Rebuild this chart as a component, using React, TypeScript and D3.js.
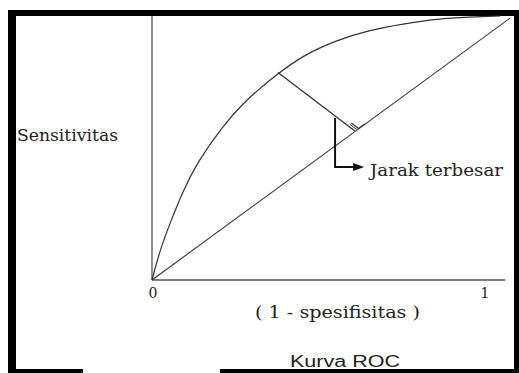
import { useEffect } from "react";
import * as d3 from "d3";

// ROC curve points (x = 1 - spesifisitas, y = sensitivitas)
const rocX = [0, 0.023, 0.052, 0.089, 0.129, 0.201, 0.267, 0.345, 0.434, 0.532, 0.626, 0.721, 0.819, 0.914, 1.0];
const rocY = [0, 0.114, 0.216, 0.337, 0.443, 0.58, 0.678, 0.765, 0.852, 0.909, 0.947, 0.97, 0.989, 0.996, 1.0];

// reference diagonal (chance line), slightly longer than the axis
const diagX = [0, 1.029];
const diagY = [0, 0.992];

// largest distance segment: from curve to the diagonal
const gapX = [0.362, 0.583];
const gapY = [0.786, 0.564];

// callout arrow: down from the segment, then right to the label
const arrowX = [0.526, 0.526, 0.598];
const arrowY = [0.614, 0.428, 0.428];

const tickValues = [0, 1];
const tickLabels = ["0", "1"];

const W = 519;
const H = 373;
const ink = "#333";

export default function App() {
  useEffect(() => {
    document.body.style.margin = "0";
  }, []);

  const x = d3.scaleLinear().domain([0, 1]).range([152, 500]);
  const y = d3.scaleLinear().domain([0, 1]).range([280, 16]);

  const straight = d3
    .line<[number, number]>()
    .x((d) => x(d[0]))
    .y((d) => y(d[1]));
  const smooth = d3
    .line<[number, number]>()
    .x((d) => x(d[0]))
    .y((d) => y(d[1]))
    .curve(d3.curveBasis);

  const roc = smooth(rocX.map((v, i) => [v, rocY[i]]));
  const diag = straight(diagX.map((v, i) => [v, diagY[i]]));
  const gap = straight(gapX.map((v, i) => [v, gapY[i]]));
  const arrow = straight(arrowX.map((v, i) => [v, arrowY[i]]));

  // right angle marker at the foot of the segment
  const fx = x(gapX[1]);
  const fy = y(gapY[1]);
  const ux0 = x(gapX[0]) - fx;
  const uy0 = y(gapY[0]) - fy;
  const ul = Math.hypot(ux0, uy0);
  const u = [ux0 / ul, uy0 / ul];
  const vx0 = x(diagX[1]) - x(diagX[0]);
  const vy0 = y(diagY[1]) - y(diagY[0]);
  const vl = Math.hypot(vx0, vy0);
  const v = [vx0 / vl, vy0 / vl];
  const pt = (a: number, b: number) => `${fx + a * u[0] + b * v[0]},${fy + a * u[1] + b * v[1]}`;

  // arrow head
  const ax = x(arrowX[2]);
  const ay = y(arrowY[2]);

  return (
    <svg width={W} height={H} style={{ display: "block", background: "#fff" }}>
      {/* frame */}
      <rect x={8} y={10} width={511} height={6} fill="#000" />
      <rect x={8} y={10} width={8} height={363} fill="#000" />
      <rect x={514} y={10} width={5} height={363} fill="#000" />
      <rect x={8} y={369} width={75} height={4} fill="#000" />
      <rect x={220} y={369} width={299} height={4} fill="#000" />

      {/* axes */}
      <line x1={x(0)} x2={x(0)} y1={y(0)} y2={y(1)} stroke="#555" strokeWidth={1.3} />
      <line x1={x(0)} x2={x(1.015)} y1={y(0)} y2={y(0)} stroke="#555" strokeWidth={1.3} />

      <path d={diag ?? ""} fill="none" stroke={ink} strokeWidth={1.1} />
      <path d={roc ?? ""} fill="none" stroke={ink} strokeWidth={1.2} />
      <path d={gap ?? ""} fill="none" stroke={ink} strokeWidth={1.3} />

      {/* right angle marker */}
      <polyline points={`${pt(9, 2.5)} ${pt(0, 2.5)}`} fill="none" stroke={ink} strokeWidth={1} />
      <polyline points={`${pt(9, 4.5)} ${pt(0, 4.5)} ${pt(0, 12)}`} fill="none" stroke={ink} strokeWidth={1.2} />

      {/* callout */}
      <path d={arrow ?? ""} fill="none" stroke="#111" strokeWidth={2} />
      <path d={`M${ax + 4},${ay} L${ax - 7},${ay - 4} L${ax - 7},${ay + 4} Z`} fill="#111" />

      {tickValues.map((t, i) => (
        <text
          key={t}
          x={x(t) + (i === 0 ? 1 : -15)}
          y={298}
          textAnchor="middle"
          fontFamily="DejaVu Serif"
          fontSize={14}
          fill="#222"
        >
          {tickLabels[i]}
        </text>
      ))}

      <text x={17} y={141} fontFamily="DejaVu Serif" fontSize={16} fill="#222" textLength={101} lengthAdjust="spacingAndGlyphs">
        Sensitivitas
      </text>
      <text x={370} y={176} fontFamily="DejaVu Serif" fontSize={16} fill="#222" textLength={133} lengthAdjust="spacingAndGlyphs">
        Jarak terbesar
      </text>
      <text x={255} y={318} fontFamily="DejaVu Serif" fontSize={16} fill="#222" textLength={165} lengthAdjust="spacingAndGlyphs">
        ( 1 - spesifisitas )
      </text>
      <text x={290} y={367} fontFamily="Liberation Sans" fontSize={16} fill="#222" textLength={110} lengthAdjust="spacingAndGlyphs">
        Kurva ROC
      </text>
    </svg>
  );
}
